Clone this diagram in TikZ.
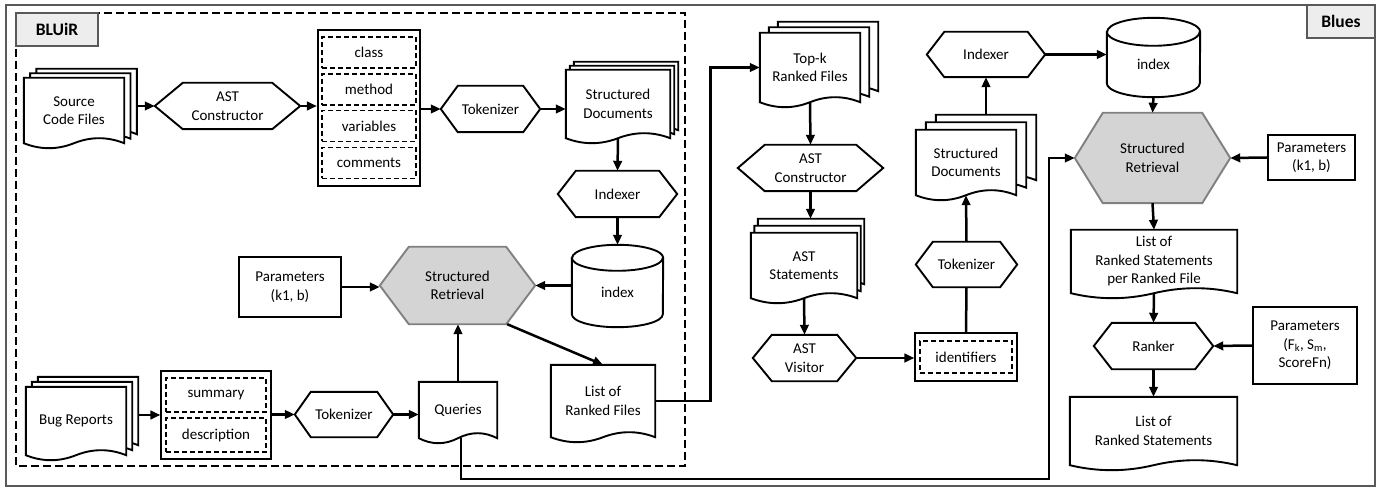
\documentclass[tikz,border=0pt]{standalone}
\usepackage{fontspec}
\setmainfont{Carlito}
\usetikzlibrary{positioning, arrows.meta, calc, fit, backgrounds}

% outline helpers, drawn behind the text nodes
\newcommand{\wamp}{5}
\newcommand{\hexout}[3][fill=white]{%
  \draw[shapeline, #1] (#2.west) -- ([xshift=#3]#2.north west) -- ([xshift=-#3]#2.north east)
    -- (#2.east) -- ([xshift=-#3]#2.south east) -- ([xshift=#3]#2.south west) -- cycle;}
\newcommand{\docout}[3]{%
  \draw[shapeline, fill=white]
    ($(#1.north west)+(#2,#3)$) -- ($(#1.north east)+(#2,#3)$) -- ($(#1.south east)+(#2,#3)$)
    .. controls ($(#1.south east)!1/3!(#1.south)+(#2,#3+4/3*\wamp)$)
       and ($(#1.south)!1/3!(#1.south east)+(#2,#3+4/3*\wamp)$) .. ($(#1.south)+(#2,#3)$)
    .. controls ($(#1.south)!1/3!(#1.south west)+(#2,#3-4/3*\wamp)$)
       and ($(#1.south west)!1/3!(#1.south)+(#2,#3-4/3*\wamp)$) .. ($(#1.south west)+(#2,#3)$)
    -- cycle;}
\newcommand{\stackout}[3]{\docout{#1}{2*#2}{2*#3}\docout{#1}{#2}{#3}\docout{#1}{0}{0}}
\newcommand{\dbout}[3]{%
  \draw[shapeline, fill=white] (#1.north west) -- ([yshift=#3]#1.south west)
    arc[start angle=180, end angle=360, x radius=#2, y radius=#3] -- (#1.north east)
    arc[start angle=0, end angle=180, x radius=#2, y radius=#3] -- cycle;
  \draw[shapeline] (#1.north west) arc[start angle=180, end angle=360, x radius=#2, y radius=#3];}

\begin{document}
\begin{tikzpicture}[
    x=1pt, y=1pt,
    every node/.style={align=center, font=\fontsize{15}{18.5}\selectfont},
    >={Triangle[length=10pt,width=8.5pt]},
    txt/.style={inner sep=0pt},
    box/.style={draw, line width=1.9pt, fill=white, inner sep=0pt},
    dbox/.style={draw, line width=1.3pt, dash pattern=on 5pt off 3pt, inner sep=0pt,
        minimum width=94, minimum height=31},
    tag/.style={draw=black!65, line width=1.3pt, fill=black!7, inner sep=0pt,
        font=\fontsize{17.5}{20}\selectfont\bfseries},
    flow/.style={->, line width=2.5pt},
    link/.style={line width=2.5pt},
    shapeline/.style={line width=1.9pt},
    gray hex/.style={fill=black!17, draw=black!50}
]
    \useasboundingbox (0,0) rectangle (1382,-489);

    % BLUiR
    \node[txt, minimum width=100, minimum height=65] (src) at (74,-110.5) {Source\\Code Files};
    \node[txt, minimum width=145, minimum height=46] (astc1) at (227.5,-106) {AST\\Constructor};
    \node[dbox] (cls) at (369,-52.5) {class};
    \node[dbox] (mth) at (369,-89.5) {method};
    \node[dbox] (var) at (369,-126) {variables};
    \node[dbox] (cmt) at (369,-163) {comments};
    \node[box, fill=none, fit=(cls)(cmt), inner xsep=3.5, inner ysep=6.5] (fld1) {};
    \node[txt, minimum width=99, minimum height=46] (tok1) at (490.5,-109) {Tokenizer};
    \node[txt, minimum width=104, minimum height=68] (sdoc1) at (618,-104) {Structured\\Documents};
    \node[txt, minimum width=119, minimum height=46] (idx1) at (617.5,-194) {Indexer};
    \node[txt, minimum width=91, minimum height=69] (db1) at (617.5,-292.5) {index};
    \node[txt, minimum width=155, minimum height=77] (sr1) at (457.5,-285.5) {Structured\\Retrieval};
    \node[box, minimum width=102, minimum height=60] (par1) at (290,-287) {Parameters\\(k1, b)};
    \node[txt, minimum width=100, minimum height=68] (bug) at (76,-421) {Bug Reports};
    \node[dbox, minimum width=100, minimum height=34] (sum) at (216,-395) {summary};
    \node[dbox, minimum width=100, minimum height=34] (dsc) at (216,-435) {description};
    \node[box, fill=none, fit=(sum)(dsc), inner xsep=4, inner ysep=6.5] (fld2) {};
    \node[txt, minimum width=98, minimum height=45] (tok2) at (344,-414.5) {Tokenizer};
    \node[txt, minimum width=78, minimum height=56] (qry) at (458,-410) {Queries};
    \node[txt, minimum width=104, minimum height=72] (lrf) at (603,-401) {List of\\Ranked Files};

    % Blues
    \node[txt, minimum width=100, minimum height=69] (topk) at (810,-67.5) {Top-k\\Ranked Files};
    \node[txt, minimum width=145, minimum height=46] (astc2) at (810.5,-168) {AST\\Constructor};
    \node[txt, minimum width=106, minimum height=65] (asts) at (804,-265.5) {AST\\Statements};
    \node[txt, minimum width=103, minimum height=46] (vis) at (804.5,-358) {AST\\Visitor};
    \node[dbox, minimum width=92, minimum height=32] (ids) at (966,-357) {identifiers};
    \node[box, fill=none, fit=(ids), inner xsep=4, inner ysep=7] (idf) {};
    \node[txt, minimum width=101, minimum height=45] (tok3) at (966.5,-264.5) {Tokenizer};
    \node[txt, minimum width=100, minimum height=65] (sdoc2) at (966,-162.5) {Structured\\Documents};
    \node[txt, minimum width=118, minimum height=45] (idx2) at (986,-54.5) {Indexer};
    \node[txt, minimum width=93, minimum height=65] (db2) at (1153.5,-64.5) {index};
    \node[txt, minimum width=155, minimum height=90] (sr2) at (1152.5,-158) {Structured\\Retrieval};
    \node[box, minimum width=87, minimum height=45] (par2) at (1311.5,-157.5) {Parameters\\(k1, b)};
    \node[txt, minimum width=166, minimum height=63] (lrsf) at (1154,-261.5) {List of\\Ranked Statements\\per Ranked File};
    \node[txt, minimum width=119, minimum height=46] (rnk) at (1153.5,-346) {Ranker};
    \node[box, minimum width=104, minimum height=77] (par3) at (1305,-345.5)
        {Parameters\\(F\textsubscript{k}, S\textsubscript{m},\\ScoreFn)};
    \node[txt, minimum width=167, minimum height=68] (lrs) at (1153.5,-431) {List of\\Ranked Statements};

    \node[tag, minimum width=82, minimum height=33] (bluir) at (57,-29.5) {BLUiR};
    \node[tag, minimum width=68, minimum height=33] (blues) at (1341,-21.5) {Blues};

    \begin{scope}[on background layer]
        \draw[line width=2pt, draw=black!65] (6,-5) rectangle (1375,-486);
        \draw[line width=1.8pt, dash pattern=on 8pt off 4pt] (16,-13) rectangle (685,-466);
        \stackout{src}{6.3}{4.5}
        \stackout{sdoc1}{4}{4}
        \stackout{bug}{6}{5}
        \docout{qry}{0}{0}
        \docout{lrf}{0}{0}
        \stackout{topk}{9}{5.5}
        \stackout{asts}{3.5}{7}
        \stackout{sdoc2}{10}{7.5}
        \docout{lrsf}{0}{0}
        \docout{lrs}{0}{0}
        \dbout{db1}{45.5}{13}
        \dbout{db2}{46.5}{14}
        \hexout{astc1}{28}
        \hexout{tok1}{17}
        \hexout{idx1}{18}
        \hexout[gray hex]{sr1}{29}
        \hexout{tok2}{16}
        \hexout{astc2}{27}
        \hexout{vis}{19}
        \hexout{tok3}{17}
        \hexout{idx2}{17.5}
        \hexout[gray hex]{sr2}{28}
        \hexout{rnk}{18}
    \end{scope}

    % BLUiR flow
    \draw[flow] ([xshift=12.6]src.east |- astc1.west) -- (astc1.west);
    \draw[flow] (astc1.east) -- (astc1.east -| fld1.west);
    \draw[flow] (fld1.east |- tok1.west) -- (tok1.west);
    \draw[flow] (tok1.east) -- (tok1.east -| sdoc1.west);
    \draw[flow] (sdoc1.south) -- (idx1.north);
    \draw[flow] (idx1.south) -- ([yshift=13]db1.north);
    \draw[flow] (db1.west |- sr1.east) -- (sr1.east);
    \draw[flow] (par1.east) -- (par1.east -| sr1.west);
    \draw[flow] (qry.north) -- (qry.north |- sr1.south);
    \draw[flow] ([xshift=-28]sr1.south east) -- (lrf.north);
    \draw[flow] ([xshift=12]bug.east |- fld2.west) -- (fld2.west);
    \draw[flow] (fld2.east |- tok2.west) -- (tok2.west);
    \draw[flow] (tok2.east) -- (tok2.east -| qry.west);
    \draw[flow] (lrf.east) -| ($(lrf.east)!0.53!(topk.west)$) |- (topk.west);

    % Blues flow
    \draw[flow] (topk.south) -- (astc2.north);
    \draw[flow] (astc2.south) -- ([yshift=14]asts.north -| astc2.south);
    \draw[flow] (asts.south) -- (vis.north);
    \draw[flow] (vis.east) -- (vis.east -| idf.west);
    \draw[link] (idf.north) -- (tok3.south);
    \draw[flow] (tok3.north) -- (sdoc2.south);
    \draw[flow] ([shift={(20,15)}]sdoc2.north) -- (idx2.south);
    \draw[flow] (idx2.east) -- (idx2.east -| db2.west);
    \draw[flow] (db2.south) -- (sr2.north);
    \draw[flow] (par2.west) -- (sr2.east);
    \draw[flow] (sr2.south) -- (lrsf.north);
    \draw[flow] (lrsf.south) -- (rnk.north);
    \draw[flow] (par3.west) -- (rnk.east);
    \draw[flow] (rnk.south) -- (lrs.north);

    \coordinate (turn) at (1049,-479);
    \draw[flow] ([xshift=3]qry.south) |- (turn) |- (sr2.west);
\end{tikzpicture}
\end{document}
